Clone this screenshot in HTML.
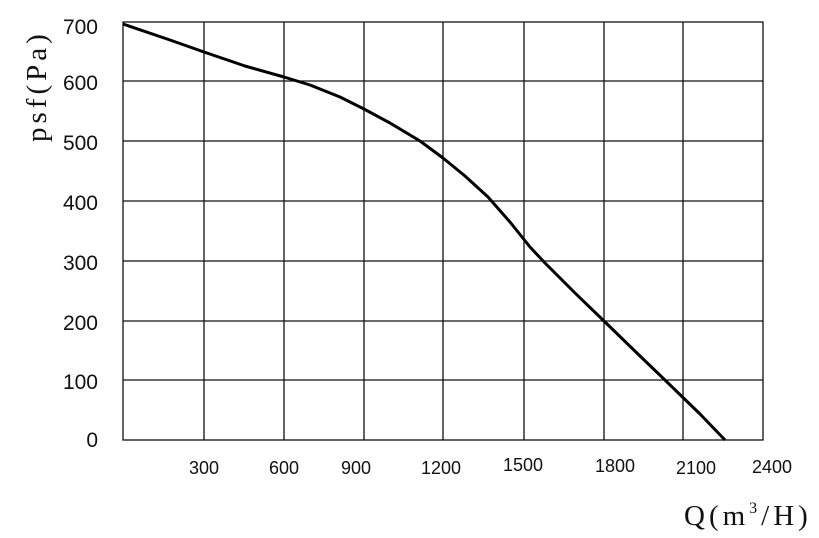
<!DOCTYPE html>
<html><head><style>
body{margin:0;background:#fff;}
svg{display:block;}
</style></head><body>
<svg width="819" height="538" xmlns="http://www.w3.org/2000/svg">
<g stroke="#111" stroke-width="1.3" fill="none">
<rect x="123" y="22" width="640" height="418"/>
<line x1="204" y1="22" x2="204" y2="440"/>
<line x1="284" y1="22" x2="284" y2="440"/>
<line x1="364" y1="22" x2="364" y2="440"/>
<line x1="443" y1="22" x2="443" y2="440"/>
<line x1="524" y1="22" x2="524" y2="440"/>
<line x1="604" y1="22" x2="604" y2="440"/>
<line x1="683" y1="22" x2="683" y2="440"/>
<line x1="123" y1="81" x2="763" y2="81"/>
<line x1="123" y1="141" x2="763" y2="141"/>
<line x1="123" y1="201" x2="763" y2="201"/>
<line x1="123" y1="261" x2="763" y2="261"/>
<line x1="123" y1="321" x2="763" y2="321"/>
<line x1="123" y1="380" x2="763" y2="380"/>
</g>
<path d="M123,24 L170,40 L204,52 L245,66 L284,77 L310,85 L340,97 L364,109 L390,123 L420,141 L443,158 L465,176 L488,197 L510,222 L530,247 L545,263 L575,293 L604,321 L640,356 L667,382 L700,414 L725,440" stroke="#000" stroke-width="3" fill="none" stroke-linejoin="round"/>
<g font-family="Liberation Sans, sans-serif" font-size="21" fill="#111" text-anchor="end">
<text x="98" y="34">700</text>
<text x="98" y="90">600</text>
<text x="98" y="150">500</text>
<text x="98" y="210">400</text>
<text x="98" y="270">300</text>
<text x="98" y="330">200</text>
<text x="98" y="389">100</text>
<text x="98" y="447">0</text>
</g>
<g font-family="Liberation Sans, sans-serif" font-size="18" fill="#111" text-anchor="middle">
<text x="204" y="474">300</text>
<text x="284" y="474">600</text>
<text x="356" y="474">900</text>
<text x="441" y="474">1200</text>
<text x="523" y="471">1500</text>
<text x="615" y="472">1800</text>
<text x="696" y="474">2100</text>
<text x="772" y="473">2400</text>
</g>
<text transform="translate(46,142) rotate(-90)" font-family="Liberation Serif, serif" font-size="29" letter-spacing="4" fill="#111">psf(Pa)</text>
<text x="684" y="525" font-family="Liberation Serif, serif" font-size="29" letter-spacing="4" fill="#111">Q(m<tspan font-size="16" dy="-12">3</tspan><tspan dy="12">/H)</tspan></text>
</svg>
</body></html>
